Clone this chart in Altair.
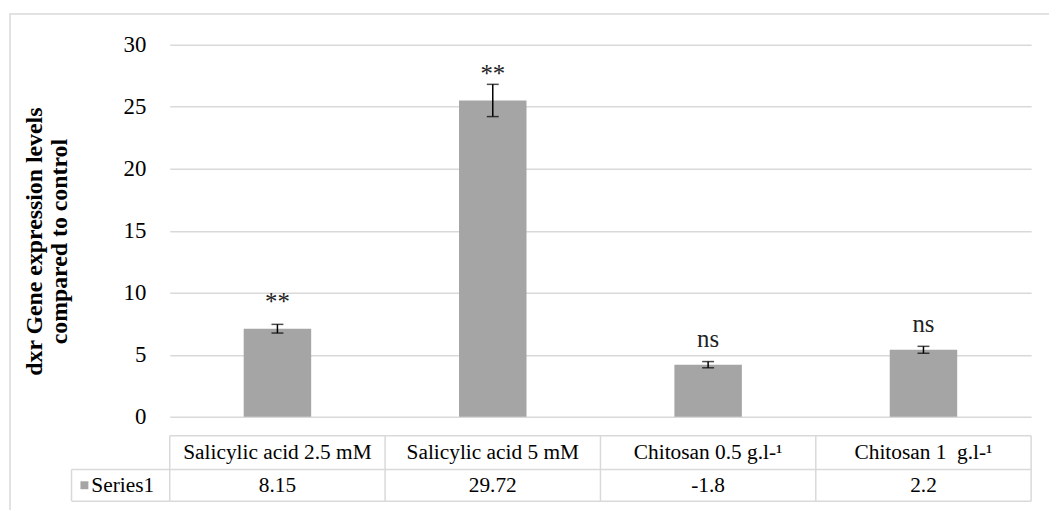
import altair as alt
import pandas as pd

# ---- data ----
categories = ["Salicylic acid 2.5 mM", "Salicylic acid 5 mM", "Chitosan 0.5 g.l-¹", "Chitosan 1\u00a0 g.l-¹"]
bar_values = [7.1, 25.5, 4.2, 5.4]
error_values = [0.35, 1.3, 0.25, 0.28]
table_values = ["8.15", "29.72", "-1.8", "2.2"]
sig_labels = ["**", "**", "ns", "ns"]
sig_positions = [8.6, 27.0, 5.6, 6.8]
y_ticks = [0, 5, 10, 15, 20, 25, 30]
series_name = ["Series1"]
y_title = ["dxr Gene expression levels", "compared to control"]

df = pd.DataFrame({
    "cat": categories,
    "val": bar_values,
    "err": error_values,
    "tv": table_values,
    "sig": sig_labels,
    "sigpos": sig_positions,
})
df["lo"] = df["val"] - df["err"]
df["hi"] = df["val"] + df["err"]
one = pd.DataFrame({"s": series_name})

FONT = "Liberation Serif"
GRID = "#d9d9d9"
BAR = "#a5a5a5"

xscale = alt.Scale(paddingInner=0, paddingOuter=0)
def xenc(**kw):
    return alt.X("cat:N", sort=categories, scale=xscale, axis=None, **kw)

yscale = alt.Scale(domain=[0, 30], nice=False)

base = alt.Chart(df)

border = alt.Chart(one).mark_rect(fillOpacity=0, stroke=GRID, strokeWidth=1.5).encode(
    x=alt.value(-161), x2=alt.value(895), y=alt.value(-31), y2=alt.value(480))

bars = base.mark_bar(size=68, color=BAR).encode(
    x=xenc(),
    y=alt.Y("val:Q", scale=yscale,
            axis=alt.Axis(values=y_ticks, title=y_title, titleFont=FONT, titleFontSize=24,
                          titleFontWeight="bold", titleColor="black", titleAngle=-90,
                          titleX=-124, titleY=198, titleBaseline="bottom", titleLineHeight=25,
                          labelFont=FONT, labelFontSize=23, labelColor="black",
                          labelPadding=24, ticks=False, tickSize=0, domain=False,
                          gridColor=GRID, gridWidth=1.5)),
)

err_rule = base.mark_rule(color="black", strokeWidth=1.5).encode(
    x=xenc(), y=alt.Y("lo:Q", scale=yscale), y2="hi:Q")
cap_lo = base.mark_tick(color="black", thickness=1.5, size=12).encode(
    x=xenc(), y=alt.Y("lo:Q", scale=yscale))
cap_hi = base.mark_tick(color="black", thickness=1.5, size=12).encode(
    x=xenc(), y=alt.Y("hi:Q", scale=yscale))

sig = base.mark_text(font=FONT, fontSize=25, baseline="alphabetic", color="#222").encode(
    x=xenc(), y=alt.Y("sigpos:Q", scale=yscale), text="sig:N")

hdr = base.mark_text(font=FONT, fontSize=21.5, baseline="middle", color="black").encode(
    x=xenc(), y=alt.value(412), text="cat:N")
vals = base.mark_text(font=FONT, fontSize=21.5, baseline="middle", color="black").encode(
    x=xenc(), y=alt.value(445), text="tv:N")

vlines = base.mark_rule(color=GRID, strokeWidth=1.5).encode(
    x=xenc(bandPosition=0), y=alt.value(394), y2=alt.value(460))
vlast = base.transform_filter(alt.datum.cat == categories[-1]).mark_rule(color=GRID, strokeWidth=1.5).encode(
    x=xenc(bandPosition=1), y=alt.value(394), y2=alt.value(460))
vleft = alt.Chart(one).mark_rule(color=GRID, strokeWidth=1.5).encode(
    x=alt.value(-99), y=alt.value(428), y2=alt.value(460))
h1 = alt.Chart(one).mark_rule(color=GRID, strokeWidth=1.5).encode(
    x=alt.value(0), x2=alt.value(868), y=alt.value(394))
h2 = alt.Chart(one).mark_rule(color=GRID, strokeWidth=1.5).encode(
    x=alt.value(-99), x2=alt.value(868), y=alt.value(428))
h3 = alt.Chart(one).mark_rule(color=GRID, strokeWidth=1.5).encode(
    x=alt.value(-99), x2=alt.value(868), y=alt.value(460))

key = alt.Chart(one).mark_square(size=64, color=BAR, opacity=1).encode(
    x=alt.value(-86), y=alt.value(444))
key_text = alt.Chart(one).mark_text(font=FONT, fontSize=21.5, align="left", baseline="middle", color="black").encode(
    x=alt.value(-79), y=alt.value(445), text="s:N")

chart = alt.layer(
    border, bars, err_rule, cap_lo, cap_hi, sig, hdr, vals,
    vlines, vlast, vleft, h1, h2, h3, key, key_text
).properties(
    width=868, height=375,
    autosize=alt.AutoSizeParams(type="none"),
    padding={"left": 163, "top": 35, "right": 18, "bottom": 92},
).configure_view(strokeWidth=0)

chart.save("out.html", embed_options={"renderer": "svg", "actions": False})
